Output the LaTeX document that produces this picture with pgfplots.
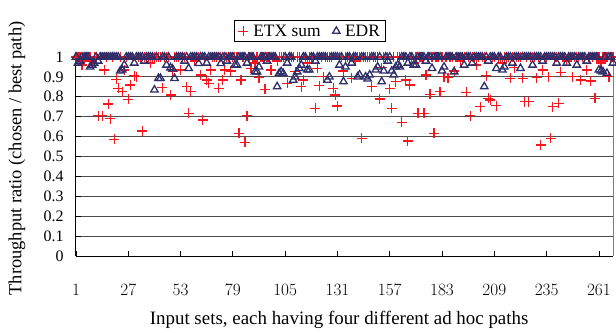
\documentclass[border=0pt]{standalone}
\usepackage{fontspec}
\setmainfont{Liberation Serif}
\usepackage{pgfplots}
\usepackage{pgfplotstable}
\pgfplotsset{compat=1.18}
\definecolor{edrblue}{RGB}{45,45,105}
\definecolor{etxred}{RGB}{250,20,30}

\pgfplotstableread{
x etx edr
1 1 1
2 1 0.97
3 1 0.98
4 0.96 1
5 0.98 1
6 1 1
7 1 1
8 1 0.95
9 0.98 0.96
10 1 0.97
11 1 1
12 0.705 0.98
13 1 1
14 0.705 1
15 0.935 1
16 1 1
17 0.764 1
18 0.69 1
19 1 1
20 0.586 1
21 0.888 1
22 0.843 1
23 1 0.93
24 0.826 0.935
25 0.935 0.96
26 1 1
27 0.787 1
28 0.859 1
29 1 1
30 0.906 0.97
31 0.90 1
32 1 1
33 1 1
34 0.628 1
35 1 0.98
36 1 1
37 1 1
38 0.97 1
39 1 1
40 1 0.835
41 1 1
42 1 0.893
43 1 0.893
44 0.846 1
45 1 1
46 1 0.96
47 1 1
48 0.809 0.946
49 0.926 0.94
50 1 0.893
51 1 1
52 1 1
53 0.935 1
54 1 1
55 1 0.98
56 0.851 1
57 0.717 0.943
58 0.826 1
59 1 1
60 0.98 1
61 1 1
62 1 0.968
63 0.91 1
64 0.683 1
65 1 1
66 0.884 0.97
67 0.868 1
68 0.935 1
69 1 1
70 1 1
71 1 1
72 0.843 1
73 1 0.968
74 0.884 1
75 0.935 1
76 1 0.98
77 1 1
78 0.93 1
79 1 1
80 1 0.96
81 1 0.96
82 0.617 1
83 0.884 1
84 1 1
85 0.571 1
86 0.705 0.97
87 1 1
88 0.943 1
89 1 1
90 0.97 0.926
91 1 0.926
92 0.896 0.95
93 1 1
94 1 1
95 0.838 1
96 1 0.98
97 1 1
98 0.935 1
99 1 1
100 1 1
101 0.98 0.851
102 1 0.918
103 1 0.926
104 1 0.918
105 1 1
106 0.868 0.97
107 1 1
108 1 1
109 1 0.884
110 0.926 0.90
111 1 0.926
112 1 0.943
113 0.851 0.96
114 0.884 1
115 1 1
116 0.97 0.935
117 1 0.935
118 1 1
119 1 1
120 0.742 0.98
121 0.943 1
122 0.856 1
123 1 1
124 0.90 1
125 1 1
126 1 0.884
127 1 0.90
128 1 1
129 0.843 1
130 0.809 1
131 0.754 1
132 1 0.96
133 1 1
134 0.93 0.876
135 1 0.95
136 1 1
137 1 1
138 0.893 0.97
139 1 1
140 0.98 1
141 1 0.90
142 1 0.91
143 0.591 1
144 1 1
145 1 0.90
146 1 0.89
147 1 0.91
148 0.851 1
149 1 1
150 1 0.935
151 1 0.95
152 0.789 1
153 0.946 0.876
154 1 0.93
155 1 1
156 1 0.98
157 0.84 1
158 0.742 0.93
159 1 0.91
160 0.876 0.95
161 1 0.96
162 1 0.951
163 0.672 1
164 1 1
165 0.884 1
166 0.578 0.97
167 0.859 1
168 1 1
169 0.97 0.96
170 1 0.96
171 0.717 1
172 1 1
173 1 1
174 0.717 1
175 0.91 0.98
176 1 1
177 0.812 1
178 1 0.943
179 0.617 1
180 1 1
181 1 1
182 0.826 1
183 1 0.93
184 0.90 0.95
185 1 1
186 0.896 1
187 1 1
188 1 1
189 0.93 0.926
190 1 1
191 1 1
192 0.98 1
193 1 1
194 1 0.96
195 0.822 1
196 1 1
197 0.705 1
198 1 0.97
199 1 1
200 0.96 1
201 1 1
202 0.75 1
203 1 1
204 1 0.851
205 0.906 1
206 0.792 0.98
207 0.784 1
208 1 1
209 1 1
210 0.755 0.943
211 1 1
212 1 1
213 0.97 0.935
214 1 0.95
215 1 1
216 1 1
217 0.893 1
218 1 0.97
219 0.946 1
220 1 1
221 1 1
222 1 0.943
223 0.893 1
224 0.775 1
225 1 1
226 0.775 1
227 1 1
228 1 0.96
229 1 1
230 0.896 1
231 1 1
232 0.558 1
233 0.935 0.98
234 1 1
235 1 1
236 0.90 1
237 0.591 1
238 0.75 1
239 1 1
240 1 0.97
241 0.767 1
242 0.923 1
243 1 1
244 1 1
245 0.98 0.97
246 1 1
247 1 1
248 0.90 1
249 1 1
250 1 0.96
251 1 1
252 0.884 1
253 1 1
254 1 1
255 0.935 0.98
256 1 1
257 0.879 1
258 1 1
259 0.792 1
260 1 1
261 1 0.935
262 0.97 0.93
263 1 0.926
264 1 1
265 1 0.918
266 0.90 1
267 1 1
268 1 0.97
}\datatable

\begin{document}
\begin{tikzpicture}
\begin{axis}[
  at={(0,0)}, anchor=south west,
  scale only axis, width=537bp, height=199bp,
  xmin=1, xmax=268, ymin=0, ymax=1,
  clip=false,
  axis x line*=bottom, axis y line*=left,
  axis line style={black, line width=1bp, -},
  xtick={1,27,53,79,105,131,157,183,209,235,261},
  ytick={0,0.1,0.2,0.3,0.4,0.5,0.6,0.7,0.8,0.9,1},
  yticklabels={0,0.1,0.2,0.3,0.4,0.5,0.6,0.7,0.8,0.9,1},
  tick align=inside, major tick length=5bp,
  tick style={black, line width=0.8bp},
  ymajorgrids, major grid style={black!70, line width=1bp},
  tick label style={font=\fontsize{16}{16}\selectfont},
  xticklabel style={anchor=center, yshift=-34bp},
  yticklabel style={anchor=east, xshift=-9bp},
  xlabel={Input sets, each having four different ad hoc paths},
  xlabel style={at={(axis description cs:0.49,-0.3216)}, anchor=center, font=\fontsize{19}{19}\selectfont},
  ylabel={Throughput ratio (chosen / best path)},
  ylabel style={at={(axis description cs:-0.11,0.49)}, anchor=center, font=\fontsize{18.5}{18.5}\selectfont},
  legend style={at={(axis description cs:0.436,1.075)}, anchor=south, legend columns=2,
    draw=black, line width=1bp, font=\fontsize{17.5}{17.5}\selectfont, inner xsep=4bp, inner ysep=2bp,
    /tikz/every odd column/.append style={column sep=3bp},
    /tikz/every even column/.append style={column sep=10bp}},
  legend cell align=left,
]
\addplot[only marks, mark=+, color=etxred, mark size=5bp, line width=1.2bp]
  table[x=x, y=etx]{\datatable};
\addlegendentry{ETX sum}
\addplot[only marks, mark=triangle, color=edrblue, mark size=4.3bp, line width=1.3bp]
  table[x=x, y=edr]{\datatable};
\addlegendentry{EDR}
\draw[gray, line width=1bp] (rel axis cs:1,0) -- (rel axis cs:1,1);
\end{axis}
\pgfresetboundingbox
\useasboundingbox (-76bp,-77bp) rectangle (540bp,256bp);
\end{tikzpicture}
\end{document}
